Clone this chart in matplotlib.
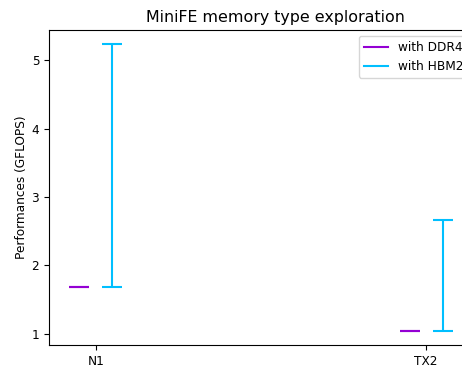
import matplotlib
matplotlib.use("Agg")
import matplotlib.pyplot as plt
from matplotlib.lines import Line2D
import numpy as np

plt.rcParams["font.size"] = 8.7

platforms = ["N1", "TX2"]
ddr4_min = [1.69, 1.044]
ddr4_max = [1.69, 1.044]
hbm2_min = [1.69, 1.044]
hbm2_max = [5.234, 2.665]

series = [
    ("with DDR4", ddr4_min, ddr4_max, "darkviolet", -0.05),
    ("with HBM2", hbm2_min, hbm2_max, "deepskyblue", 0.05),
]

fig = plt.figure(figsize=(4.62, 3.67), dpi=100)
ax = fig.add_axes([49 / 462, 1 - 345 / 367, 452 / 462, 315 / 367])

x = np.arange(len(platforms))
handles = []
for label, lo, hi, color, off in series:
    lo = np.array(lo)
    hi = np.array(hi)
    ax.errorbar(x + off, lo, yerr=[np.zeros_like(lo), hi - lo], fmt="none",
                ecolor=color, elinewidth=1.5, capsize=7.5, capthick=1.5)
    handles.append(Line2D([], [], color=color, lw=1.5, label=label))

ax.set_xticks(x)
ax.set_xticklabels(platforms)
ax.set_xlim(-0.142, 1.227)
ax.set_ylabel("Performances (GFLOPS)", labelpad=2.5)
ax.set_title("MiniFE memory type exploration", fontsize=11.4)
fig.legend(handles=handles, loc="upper left",
           bbox_to_anchor=(359 / 462, 1 - 36 / 367), borderaxespad=0)

fig.savefig("out.png", dpi=100)
